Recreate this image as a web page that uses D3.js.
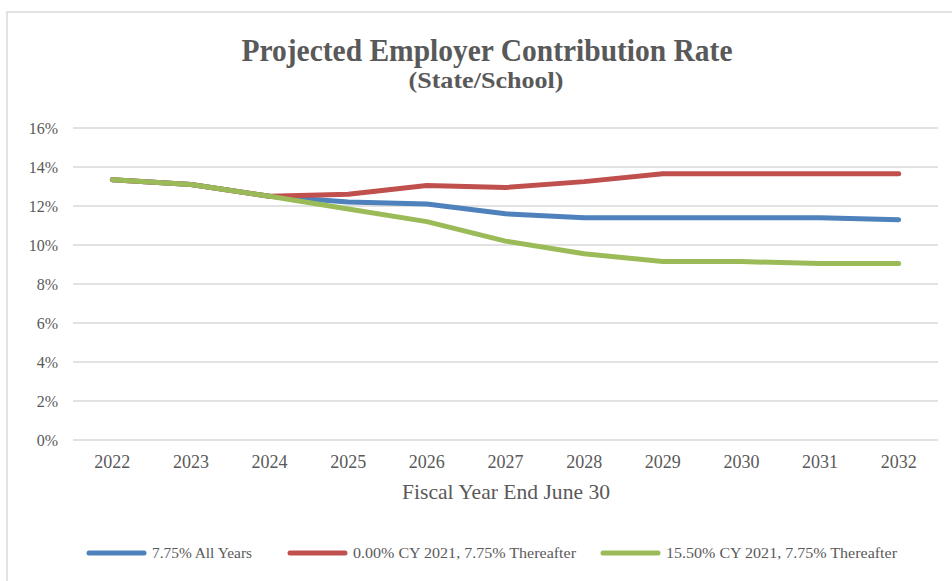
<!DOCTYPE html>
<html>
<head>
<meta charset="utf-8">
<script src="https://cdn.jsdelivr.net/npm/d3@7"></script>
<style>
  body { margin: 0; background: #fff; }
  svg { display: block; font-family: 'Liberation Serif', 'Times New Roman', serif; }
</style>
</head>
<body>
<div id="chart"></div>
<script>
// Projected employer contribution rate, three scenarios
const years = ['2022', '2023', '2024', '2025', '2026', '2027', '2028', '2029', '2030', '2031', '2032'];
const allYears = [13.35, 13.1, 12.5, 12.2, 12.1, 11.6, 11.4, 11.4, 11.4, 11.4, 11.3];
const zeroCY2021 = [13.35, 13.1, 12.5, 12.6, 13.05, 12.95, 13.25, 13.65, 13.65, 13.65, 13.65];
const highCY2021 = [13.35, 13.1, 12.5, 11.85, 11.2, 10.2, 9.55, 9.15, 9.15, 9.05, 9.05];
const yTicks = [0, 2, 4, 6, 8, 10, 12, 14, 16];
const seriesNames = ['7.75% All Years', '0.00% CY 2021, 7.75% Thereafter', '15.50% CY 2021, 7.75% Thereafter'];

(function () {
  const width = 952;
  const height = 581;
  const margin = { top: 128, right: 14, bottom: 141, left: 73 };
  const textCol = '#595959';

  const series = [
    { name: seriesNames[0], values: allYears, color: '#4f81bd' },
    { name: seriesNames[1], values: zeroCY2021, color: '#c0504d' },
    { name: seriesNames[2], values: highCY2021, color: '#9bbb59' }
  ];

  const svg = d3.select('#chart')
    .append('svg')
    .attr('width', width)
    .attr('height', height);

  // chart frame (runs off the right and bottom edges)
  svg.append('rect')
    .attr('x', 7)
    .attr('y', 12)
    .attr('width', 1000)
    .attr('height', 1000)
    .attr('fill', 'none')
    .attr('stroke', '#d9d9d9')
    .attr('stroke-width', 1.5);

  const x = d3.scaleBand()
    .domain(years)
    .range([margin.left, width - margin.right]);

  const y = d3.scaleLinear()
    .domain([0, 16])
    .range([height - margin.bottom, margin.top]);

  // gridlines
  svg.append('g')
    .selectAll('line')
    .data(yTicks)
    .enter()
    .append('line')
    .attr('x1', margin.left)
    .attr('x2', width - margin.right)
    .attr('y1', (d) => y(d))
    .attr('y2', (d) => y(d))
    .attr('stroke', '#d9d9d9')
    .attr('stroke-width', 1.5);

  // y tick labels
  svg.append('g')
    .selectAll('text')
    .data(yTicks)
    .enter()
    .append('text')
    .attr('x', 58)
    .attr('y', (d) => y(d))
    .attr('dy', '0.35em')
    .attr('text-anchor', 'end')
    .attr('fill', textCol)
    .attr('font-size', 16)
    .text((d) => d + '%');

  // x tick labels
  svg.append('g')
    .selectAll('text')
    .data(years)
    .enter()
    .append('text')
    .attr('x', (d) => x(d) + x.bandwidth() / 2)
    .attr('y', 468)
    .attr('text-anchor', 'middle')
    .attr('fill', textCol)
    .attr('font-size', 18)
    .text((d) => d);

  // axis title
  svg.append('text')
    .attr('x', 506)
    .attr('y', 499)
    .attr('text-anchor', 'middle')
    .attr('fill', textCol)
    .attr('font-size', 21)
    .attr('textLength', 208)
    .attr('lengthAdjust', 'spacingAndGlyphs')
    .text('Fiscal Year End June 30');

  // title
  svg.append('text')
    .attr('x', 487)
    .attr('y', 61)
    .attr('text-anchor', 'middle')
    .attr('fill', textCol)
    .attr('font-size', 31)
    .attr('font-weight', 'bold')
    .attr('textLength', 491)
    .attr('lengthAdjust', 'spacingAndGlyphs')
    .text('Projected Employer Contribution Rate');

  svg.append('text')
    .attr('x', 486)
    .attr('y', 88)
    .attr('text-anchor', 'middle')
    .attr('fill', textCol)
    .attr('font-size', 23)
    .attr('font-weight', 'bold')
    .attr('textLength', 155)
    .attr('lengthAdjust', 'spacingAndGlyphs')
    .text('(State/School)');

  const line = d3.line()
    .x((d, i) => x(years[i]) + x.bandwidth() / 2)
    .y((d) => y(d));

  svg.append('g')
    .selectAll('path')
    .data(series)
    .enter()
    .append('path')
    .attr('d', (d) => line(d.values))
    .attr('fill', 'none')
    .attr('stroke', (d) => d.color)
    .attr('stroke-width', 5)
    .attr('stroke-linecap', 'round')
    .attr('stroke-linejoin', 'round');

  // legend
  const legendX = [87, 288, 601];
  const legendW = [100, 223, 231];
  const item = svg.append('g')
    .selectAll('g')
    .data(series)
    .enter()
    .append('g')
    .attr('transform', (d, i) => `translate(${legendX[i]}, 553)`);

  item.append('line')
    .attr('x1', 2)
    .attr('x2', 57)
    .attr('y1', 0)
    .attr('y2', 0)
    .attr('stroke', (d) => d.color)
    .attr('stroke-width', 5)
    .attr('stroke-linecap', 'round');

  item.append('text')
    .attr('x', 65)
    .attr('y', 0)
    .attr('dy', '0.35em')
    .attr('fill', textCol)
    .attr('font-size', 15)
    .attr('textLength', (d, i) => legendW[i])
    .attr('lengthAdjust', 'spacingAndGlyphs')
    .text((d) => d.name);
})();
</script>
</body>
</html>
